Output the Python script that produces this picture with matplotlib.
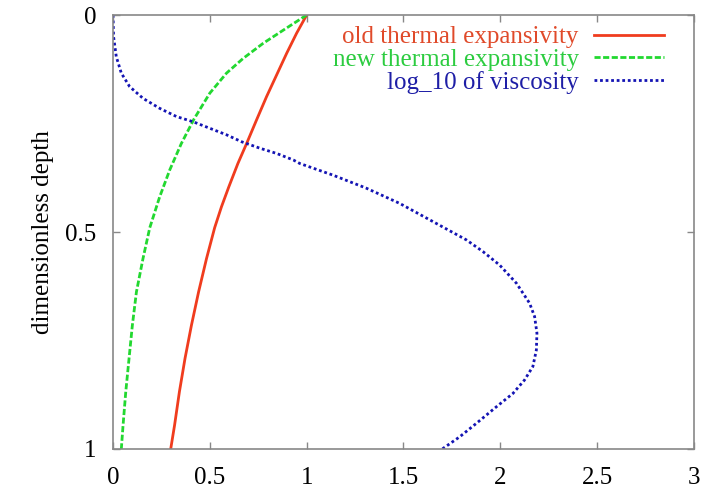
import matplotlib
matplotlib.use("Agg")
import matplotlib.pyplot as plt

plt.rcParams['font.family'] = ['Liberation Serif', 'DejaVu Serif']

# values (x value, dimensionless depth)
old_depth = [0.0, 0.042, 0.088, 0.138, 0.188, 0.242, 0.296, 0.342, 0.396, 0.442, 0.49,
             0.561, 0.638, 0.715, 0.791, 0.868, 0.945, 1.0]
old_alpha = [1.0, 0.948, 0.897, 0.845, 0.793, 0.741, 0.690, 0.645, 0.598, 0.560, 0.525,
             0.483, 0.442, 0.405, 0.372, 0.343, 0.318, 0.298]

new_depth = [0.0, 0.035, 0.065, 0.10, 0.134, 0.18, 0.24, 0.296, 0.357, 0.419, 0.49,
             0.561, 0.638, 0.715, 0.791, 0.868, 0.945, 1.0]
new_alpha = [1.0, 0.879, 0.776, 0.672, 0.586, 0.5, 0.418, 0.353, 0.293, 0.241, 0.19,
             0.155, 0.121, 0.1, 0.083, 0.066, 0.052, 0.043]

visc_depth = [0.0, 0.05, 0.096, 0.134, 0.165, 0.192, 0.215, 0.234, 0.246, 0.261, 0.276,
              0.292, 0.307, 0.319, 0.334, 0.342, 0.369, 0.399, 0.434, 0.476, 0.518,
              0.545, 0.576, 0.618, 0.664, 0.695, 0.733, 0.772, 0.810, 0.841, 0.872,
              0.903, 0.941, 0.972, 1.0]
visc_log10 = [0.0, 0.003, 0.017, 0.043, 0.086, 0.155, 0.241, 0.328, 0.414, 0.5, 0.586,
              0.664, 0.759, 0.845, 0.931, 0.964, 1.136, 1.308, 1.480, 1.652, 1.824,
              1.910, 1.996, 2.083, 2.151, 2.177, 2.189, 2.186, 2.168, 2.125, 2.065,
              1.979, 1.876, 1.790, 1.70]

labels = ['old thermal expansivity', 'new thermal expansivity', 'log_10 of viscosity']
line_colors = ['#f03c1e', '#22d830', '#1414b4']
text_colors = ['#e04a2a', '#2ccc40', '#1e1ea6']

xticks = [0, 0.5, 1, 1.5, 2, 2.5, 3]
xtick_labels = ['0', '0.5', '1', '1.5', '2', '2.5', '3']
yticks = [0, 0.5, 1]
ytick_labels = ['0', '0.5', '1']

fig = plt.figure(figsize=(7.04, 4.94), dpi=100)
ax = fig.add_axes([0.1605, 0.0911, 0.8253, 0.8785])

ax.plot(old_alpha, old_depth, color=line_colors[0], lw=2, label=labels[0])
ax.plot(new_alpha, new_depth, color=line_colors[1], lw=2, ls=(0, (2.2, 0.9)), label=labels[1])
ax.plot(visc_log10, visc_depth, color=line_colors[2], lw=2, ls=(0, (1, 1)), label=labels[2])

ax.set_xlim(0, 3)
ax.set_ylim(1, 0)
ax.set_xticks(xticks)
ax.set_xticklabels(xtick_labels)
ax.set_yticks(yticks)
ax.set_yticklabels(ytick_labels)
ax.tick_params(direction='in', length=5, width=1, color='#888888', labelsize=18,
               top=True, right=True)
ax.tick_params(axis='x', pad=13)
ax.tick_params(axis='y', pad=12)
for s in ax.spines.values():
    s.set_color('#888888')
    s.set_linewidth(1.2)

ax.set_ylabel('dimensionless depth', fontsize=18, labelpad=8)

leg = ax.legend(loc='upper right', bbox_to_anchor=(0.948, 0.975), frameon=False,
                markerfirst=False, fontsize=18, handlelength=2.8, handletextpad=0.6,
                labelspacing=0.0, borderpad=0, borderaxespad=0)
for t, c in zip(leg.get_texts(), text_colors):
    t.set_color(c)

fig.savefig('out.png', dpi=100)
